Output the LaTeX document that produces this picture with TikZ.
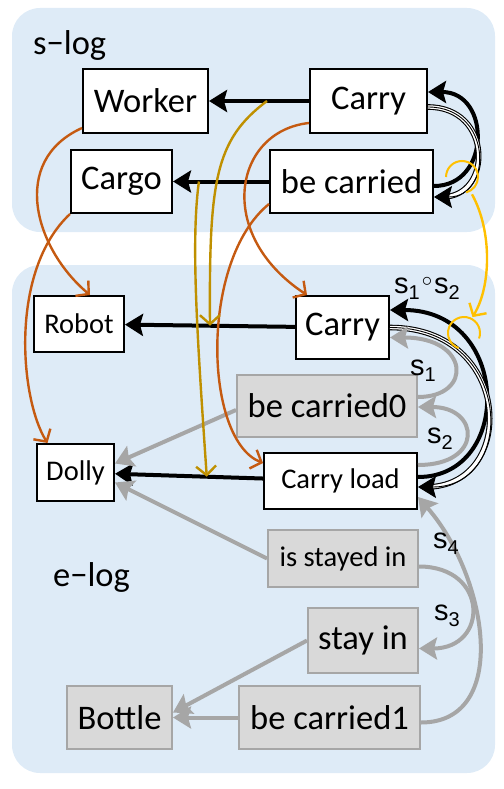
\documentclass[tikz,border=0pt]{standalone}
\usepackage{fontspec}
\setmainfont{Carlito}
\newfontfamily\lblfont{Liberation Sans}
\usetikzlibrary{arrows.meta,positioning}

\definecolor{panelblue}{RGB}{222,235,247}
\definecolor{boxgray}{RGB}{217,217,217}
\definecolor{edgegray}{RGB}{166,166,166}
\definecolor{rust}{RGB}{197,90,17}
\definecolor{mustard}{RGB}{191,144,0}
\definecolor{gold}{RGB}{255,192,0}

\newcommand{\sname}[1]{s\raisebox{-6pt}{\fontsize{20}{20}\selectfont #1}}

\begin{document}
\begin{tikzpicture}[x=1pt,y=-1pt,on grid,
    big/.style={font=\fontsize{34.5}{40}\selectfont},
    small/.style={font=\fontsize{28.5}{34}\selectfont},
    obj/.style={draw=black,fill=white,line width=2pt,inner sep=0pt},
    ghost/.style={draw=edgegray,fill=boxgray,line width=2pt,inner sep=0pt},
    lbl/.style={font=\lblfont\fontsize{29}{34}\selectfont,inner sep=0pt},
    tip/.style={-{Stealth[length=18pt,width=22pt,inset=3pt]}},
    arr/.style={tip,line width=4pt},
    grayarr/.style={arr,edgegray},
    triple/.style={tip,line width=0.9pt,
      preaction={draw,-,line width=5.6pt,shorten >=8pt},
      preaction={draw,-,white,line width=3.4pt,shorten >=8pt}},
    thinarr/.style={line width=2.4pt,-{Straight Barb[length=9pt,width=20pt]}},
    rustarr/.style={thinarr,rust},
    mustardarr/.style={thinarr,mustard}]
  \useasboundingbox (0,0) rectangle (503,789);

  % the two logs
  \fill[panelblue,rounded corners=28pt] (12,8) rectangle (495,232);
  \fill[panelblue,rounded corners=28pt] (12,265) rectangle (495,773);
  \node[big,anchor=base west,inner sep=0pt] (slog) at (33,55) {s−log};
  \node[big,anchor=base west,inner sep=0pt] (elog) at (53,586) {e−log};

  % s-log
  \node[obj,big,minimum width=125pt,minimum height=64pt] (worker) at (145.5,101) {Worker};
  \node[obj,big,minimum width=117pt,minimum height=64pt] (carryS) [right=223pt of worker] {Carry};
  \node[obj,big,minimum width=101pt,minimum height=63pt] (cargo) at (121.5,181.5) {Cargo};
  \node[obj,big,minimum width=163pt,minimum height=63pt] (becarried) [right=230pt of cargo] {be carried};

  % e-log
  \node[obj,small,minimum width=90pt,minimum height=56pt] (robot) at (79,324) {Robot};
  \node[obj,big,minimum width=93pt,minimum height=63pt] (carryE) at (342.5,327.5) {Carry};
  \node[ghost,big,minimum width=180pt,minimum height=62pt] (becarried0) at (327,406) {be carried0};
  \node[obj,small,minimum width=77pt,minimum height=57pt] (dolly) at (75.5,472.5) {Dolly};
  \node[obj,small,minimum width=153pt,minimum height=56pt] (carryload) at (340.5,481) {Carry load};
  \node[ghost,small,minimum width=150pt,minimum height=57pt] (isstayed) at (343,558.5) {is stayed in};
  \node[ghost,big,minimum width=110pt,minimum height=65pt] (stayin) at (363,640.5) {stay in};
  \node[ghost,big,minimum width=105pt,minimum height=63pt] (bottle) at (119.5,717.5) {Bottle};
  \node[ghost,big,minimum width=181pt,minimum height=63pt] (becarried1) [right=210pt of bottle] {be carried1};

  % straight arrows
  \draw[arr] (carryS) -- coordinate[pos=0.42] (m1) (worker);
  \draw[arr] (becarried) -- coordinate[pos=0.73] (m2) (cargo);
  \draw[arr] (carryE) -- coordinate[pos=0.5] (m3) (robot);
  \draw[arr] (carryload) -- coordinate[pos=0.38] (m4) (dolly);
  \draw[grayarr] ([yshift=-4pt]becarried0.west) -- ([yshift=9pt]dolly.east);
  \draw[grayarr] (isstayed.west) -- ([yshift=-10pt]dolly.east);
  \draw[grayarr] (stayin.west) -- ([yshift=5pt]bottle.east);
  \draw[grayarr] (becarried1) -- (bottle);

  % loops on the right
  \draw[arr] ([yshift=-4.5pt]becarried.east) .. controls +(57,0) and +(63,0) .. ([yshift=9pt]carryS.east);
  \draw[triple] ([yshift=-6pt]carryS.east) .. controls +(65,0) and +(59,0) .. ([yshift=-15.5pt]becarried.east);
  \draw[arr] ([yshift=4pt]carryload.east) .. controls +(96,0) and +(121,0) .. ([yshift=17.5pt]carryE.east);
  \draw[triple] (carryE.east) .. controls +(124,0) and +(100,0) .. ([yshift=-6pt]carryload.east);
  \draw[grayarr] ([yshift=9pt]becarried0.east) .. controls +(55,0) and +(80,0) .. ([yshift=-10pt]carryE.east);
  \draw[grayarr] ([yshift=16pt]carryload.east) .. controls +(66,0) and +(62,0) .. ([yshift=-1pt]becarried0.east);
  \draw[grayarr] ([yshift=-8pt]isstayed.east) .. controls +(70,0) and +(70,0) .. ([yshift=-8pt]stayin.east);
  \draw[grayarr] ([yshift=-5pt]becarried1.east) .. controls +(90,0) and +(70,80) .. ([yshift=-16pt]carryload.east);

  \node[lbl,anchor=base] (s12) at (427,293) {\sname{1}\hspace{2pt}\raisebox{7pt}{\fontsize{20}{20}\selectfont$\circ$}\hspace{2pt}\sname{2}};
  \node[lbl,anchor=base] (s1) at (423,375) {\sname{1}};
  \node[lbl,anchor=base] (s2) at (440,443) {\sname{2}};
  \node[lbl,anchor=base] (s4) at (446,548) {\sname{4}};
  \node[lbl,anchor=base] (s3) at (447,620) {\sname{3}};

  % object maps
  \draw[rustarr] ([yshift=6pt]worker.south west) .. controls +(-73,33) and +(-55,-46) .. ([xshift=11pt]robot.north);
  \draw[rustarr] (cargo.south west) .. controls +(-61,57) and +(-27.5,-44) .. ([xshift=-28pt]dolly.north);
  \draw[rustarr] ([yshift=11pt]carryS.south west) .. controls +(-75,8) and +(-93,-61) .. ([xshift=12pt]carryE.north west);
  \draw[rustarr] ([yshift=10pt]becarried.south west) .. controls +(-70,57) and +(-59,-23) .. ([yshift=18pt]carryload.west);

  % arrow maps
  \draw[mustardarr] (m1) .. controls +(-52,39) and +(-1,-145) .. (m3);
  \draw[mustardarr] (m2) .. controls +(-8,59) and +(-10,-146) .. (m4);

  % the pair of loops goes to the composite
  \coordinate (ringS) at (462,177);
  \coordinate (ringE) at (464,333);
  \draw[gold,line width=2pt] ([shift={(180:16pt)}]ringS) arc[start angle=180,end angle=-75,radius=16pt];
  \draw[gold,line width=2pt] ([shift={(250:16pt)}]ringE) arc[start angle=250,end angle=-20,radius=16pt];
  \draw[thinarr,gold] ([shift={(-60:20pt)}]ringS) .. controls +(20,36) and +(19,-31) .. ([shift={(62:18pt)}]ringE);
\end{tikzpicture}
\end{document}
